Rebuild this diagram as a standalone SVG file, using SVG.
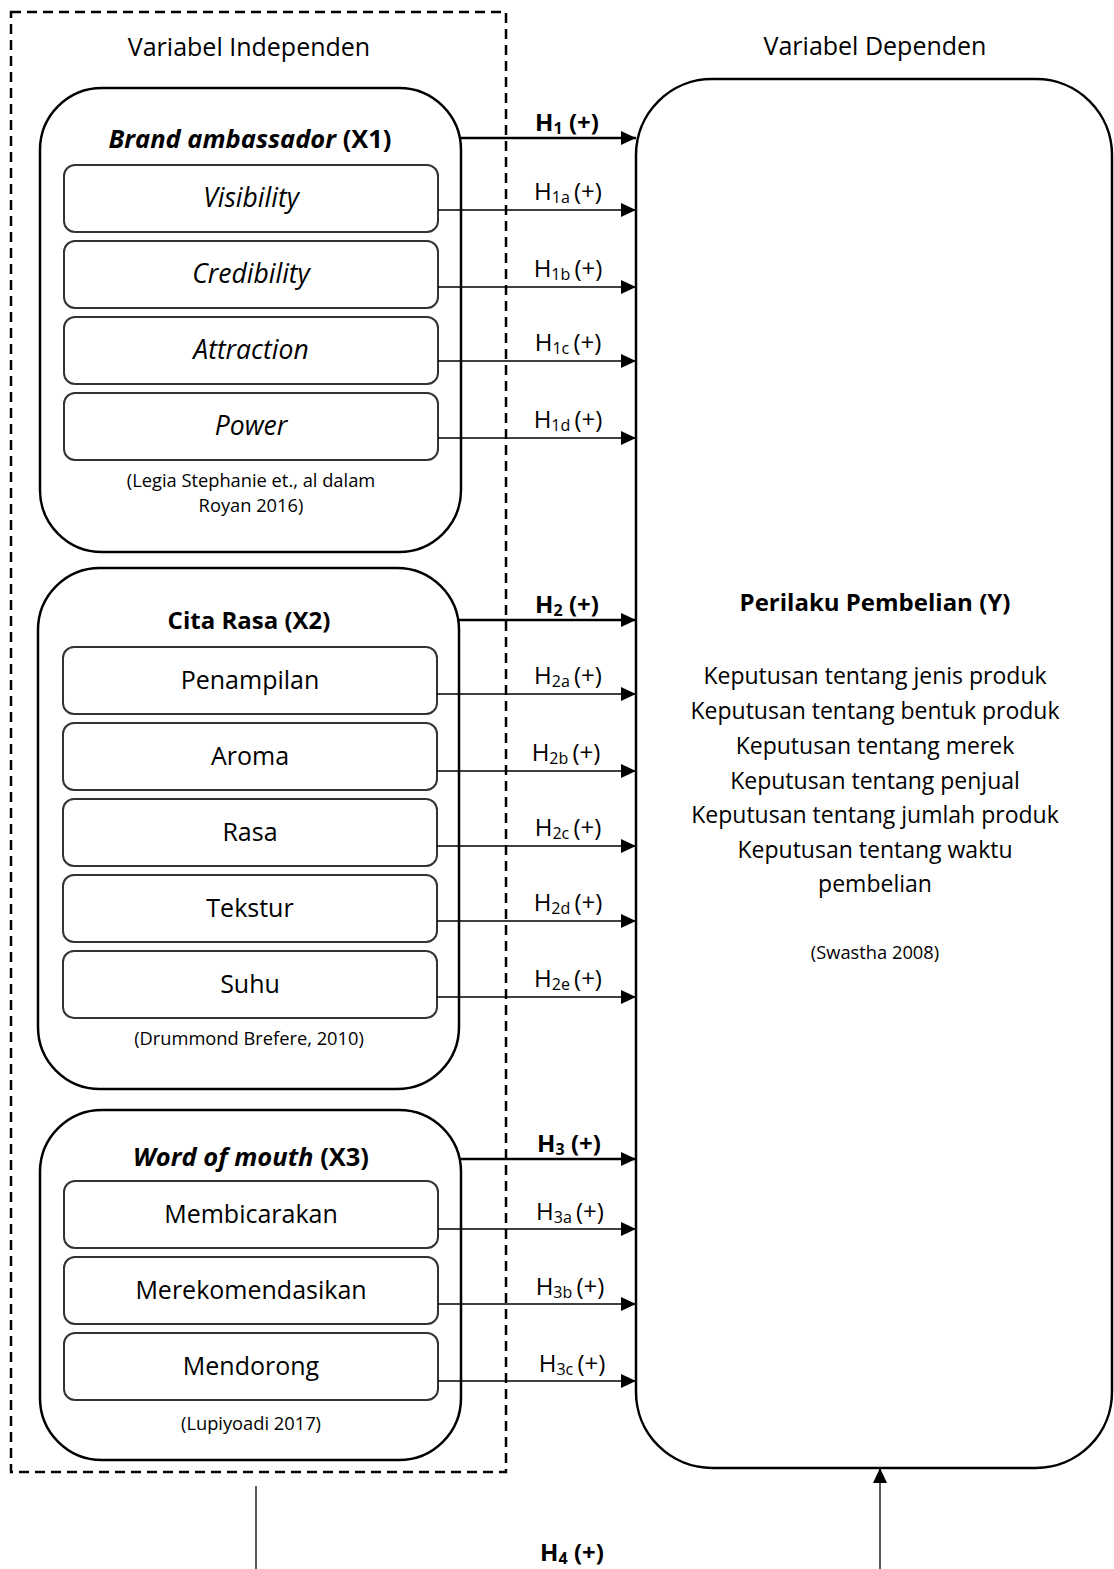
<svg xmlns="http://www.w3.org/2000/svg" width="1114" height="1569" viewBox="0 0 1114 1569">
<defs>
<style>
text{font-family:"Open Sans","Noto Sans","Liberation Sans",sans-serif;fill:#000}
.big{stroke:#000;stroke-width:2.5;fill:#fff}
.sub{stroke:#333;stroke-width:2;fill:#fff}
.t25{font-size:25px;text-anchor:middle}
.it{font-style:italic;font-size:26.5px}
.hd{font-size:24px;font-weight:bold;text-anchor:middle}
.hdi{font-size:25.5px}
.cite{font-size:18.3px;text-anchor:middle}
.body{font-size:23px;text-anchor:middle}
.thick{stroke:#000;stroke-width:2.5;fill:none}
.thin{stroke:#000;stroke-width:1.3;fill:none}
.hl{font-size:24px;text-anchor:middle}
.hb{font-size:24px;font-weight:bold;text-anchor:middle}
.s{font-size:16px}
</style>
<marker id="ah" viewBox="0 0 15 14" refX="15" refY="7" markerWidth="15" markerHeight="14" markerUnits="userSpaceOnUse" orient="auto"><path d="M0,0 L15,7 L0,14 z" fill="#000"/></marker>
</defs>
<rect x="0" y="0" width="1114" height="1569" fill="#fff"/>

<g id="independen-frame">
<rect x="11" y="12" width="495" height="1460" fill="none" stroke="#000" stroke-width="2.5" stroke-dasharray="10 6"/>
<text class="t25" x="249" y="56">Variabel Independen</text>
</g>
<g id="dependen-label">
<text class="t25" x="875" y="55">Variabel Dependen</text>
</g>

<g id="x1">
<rect class="big" x="40" y="88" width="421" height="464" rx="62"/>
<text class="hd hdi" x="250" y="148"><tspan font-style="italic">Brand ambassador</tspan> (X1)</text>
<text class="cite" x="251" y="487">(Legia Stephanie et., al dalam</text>
<text class="cite" x="251" y="512">Royan 2016)</text>
</g>
<g id="x1a"><rect class="sub" x="64" y="165" width="374" height="67" rx="11"/><text class="t25 it" x="251" y="207">Visibility</text></g>
<g id="x1b"><rect class="sub" x="64" y="241" width="374" height="67" rx="11"/><text class="t25 it" x="251" y="283">Credibility</text></g>
<g id="x1c"><rect class="sub" x="64" y="317" width="374" height="67" rx="11"/><text class="t25 it" x="251" y="359">Attraction</text></g>
<g id="x1d"><rect class="sub" x="64" y="393" width="374" height="67" rx="11"/><text class="t25 it" x="251" y="435">Power</text></g>

<g id="x2">
<rect class="big" x="38" y="568" width="421" height="521" rx="62"/>
<text class="hd" x="249" y="629">Cita Rasa (X2)</text>
<text class="cite" x="249" y="1045">(Drummond Brefere, 2010)</text>
</g>
<g id="x2a"><rect class="sub" x="63" y="647" width="374" height="67" rx="11"/><text class="t25" x="250" y="689">Penampilan</text></g>
<g id="x2b"><rect class="sub" x="63" y="723" width="374" height="67" rx="11"/><text class="t25" x="250" y="765">Aroma</text></g>
<g id="x2c"><rect class="sub" x="63" y="799" width="374" height="67" rx="11"/><text class="t25" x="250" y="841">Rasa</text></g>
<g id="x2d"><rect class="sub" x="63" y="875" width="374" height="67" rx="11"/><text class="t25" x="250" y="917">Tekstur</text></g>
<g id="x2e"><rect class="sub" x="63" y="951" width="374" height="67" rx="11"/><text class="t25" x="250" y="993">Suhu</text></g>

<g id="x3">
<rect class="big" x="40" y="1110" width="421" height="350" rx="62"/>
<text class="hd hdi" x="251" y="1166"><tspan font-style="italic">Word of mouth</tspan> (X3)</text>
<text class="cite" x="251" y="1430">(Lupiyoadi 2017)</text>
</g>
<g id="x3a"><rect class="sub" x="64" y="1181" width="374" height="67" rx="11"/><text class="t25" x="251" y="1223">Membicarakan</text></g>
<g id="x3b"><rect class="sub" x="64" y="1257" width="374" height="67" rx="11"/><text class="t25" x="251" y="1299">Merekomendasikan</text></g>
<g id="x3c"><rect class="sub" x="64" y="1333" width="374" height="67" rx="11"/><text class="t25" x="251" y="1375">Mendorong</text></g>

<g id="y">
<rect class="big" x="636" y="79" width="476" height="1389" rx="76"/>
<text class="hd" x="875" y="611">Perilaku Pembelian (Y)</text>
<text class="body" x="875" y="684">Keputusan tentang jenis produk</text>
<text class="body" x="875" y="719">Keputusan tentang bentuk produk</text>
<text class="body" x="875" y="754">Keputusan tentang merek</text>
<text class="body" x="875" y="789">Keputusan tentang penjual</text>
<text class="body" x="875" y="823">Keputusan tentang jumlah produk</text>
<text class="body" x="875" y="858">Keputusan tentang waktu</text>
<text class="body" x="875" y="892">pembelian</text>
<text class="cite" x="875" y="959">(Swastha 2008)</text>
</g>

<g id="connectors">
<line class="thick" x1="461" y1="138" x2="636" y2="138" marker-end="url(#ah)"/>
<line class="thin" x1="438" y1="210" x2="636" y2="210" marker-end="url(#ah)"/>
<line class="thin" x1="438" y1="287" x2="636" y2="287" marker-end="url(#ah)"/>
<line class="thin" x1="438" y1="361" x2="636" y2="361" marker-end="url(#ah)"/>
<line class="thin" x1="438" y1="438" x2="636" y2="438" marker-end="url(#ah)"/>

<line class="thick" x1="459" y1="620" x2="636" y2="620" marker-end="url(#ah)"/>
<line class="thin" x1="437" y1="694" x2="636" y2="694" marker-end="url(#ah)"/>
<line class="thin" x1="437" y1="771" x2="636" y2="771" marker-end="url(#ah)"/>
<line class="thin" x1="437" y1="846" x2="636" y2="846" marker-end="url(#ah)"/>
<line class="thin" x1="437" y1="921" x2="636" y2="921" marker-end="url(#ah)"/>
<line class="thin" x1="437" y1="997" x2="636" y2="997" marker-end="url(#ah)"/>

<line class="thick" x1="461" y1="1159" x2="636" y2="1159" marker-end="url(#ah)"/>
<line class="thin" x1="438" y1="1229" x2="636" y2="1229" marker-end="url(#ah)"/>
<line class="thin" x1="438" y1="1304" x2="636" y2="1304" marker-end="url(#ah)"/>
<line class="thin" x1="438" y1="1381" x2="636" y2="1381" marker-end="url(#ah)"/>

<line class="thin" x1="256" y1="1486" x2="256" y2="1569"/>
<line class="thin" x1="880" y1="1569" x2="880" y2="1468" marker-end="url(#ah)"/>

<text class="hb" x="567" y="131">H<tspan class="s" dy="3">1</tspan><tspan dy="-3"> (+)</tspan></text>
<text class="hl" x="568" y="200">H<tspan class="s" dy="3">1a </tspan><tspan dy="-3">(+)</tspan></text>
<text class="hl" x="568" y="277">H<tspan class="s" dy="3">1b </tspan><tspan dy="-3">(+)</tspan></text>
<text class="hl" x="568" y="351">H<tspan class="s" dy="3">1c </tspan><tspan dy="-3">(+)</tspan></text>
<text class="hl" x="568" y="428">H<tspan class="s" dy="3">1d </tspan><tspan dy="-3">(+)</tspan></text>

<text class="hb" x="567" y="613">H<tspan class="s" dy="3">2</tspan><tspan dy="-3"> (+)</tspan></text>
<text class="hl" x="568" y="684">H<tspan class="s" dy="3">2a </tspan><tspan dy="-3">(+)</tspan></text>
<text class="hl" x="566" y="761">H<tspan class="s" dy="3">2b </tspan><tspan dy="-3">(+)</tspan></text>
<text class="hl" x="568" y="836">H<tspan class="s" dy="3">2c </tspan><tspan dy="-3">(+)</tspan></text>
<text class="hl" x="568" y="911">H<tspan class="s" dy="3">2d </tspan><tspan dy="-3">(+)</tspan></text>
<text class="hl" x="568" y="987">H<tspan class="s" dy="3">2e </tspan><tspan dy="-3">(+)</tspan></text>

<text class="hb" x="569" y="1152">H<tspan class="s" dy="3">3</tspan><tspan dy="-3"> (+)</tspan></text>
<text class="hl" x="570" y="1220">H<tspan class="s" dy="3">3a </tspan><tspan dy="-3">(+)</tspan></text>
<text class="hl" x="570" y="1295">H<tspan class="s" dy="3">3b </tspan><tspan dy="-3">(+)</tspan></text>
<text class="hl" x="572" y="1372">H<tspan class="s" dy="3">3c </tspan><tspan dy="-3">(+)</tspan></text>

<text class="hb" x="572" y="1561">H<tspan class="s" dy="3">4</tspan><tspan dy="-3"> (+)</tspan></text>
</g>
</svg>
